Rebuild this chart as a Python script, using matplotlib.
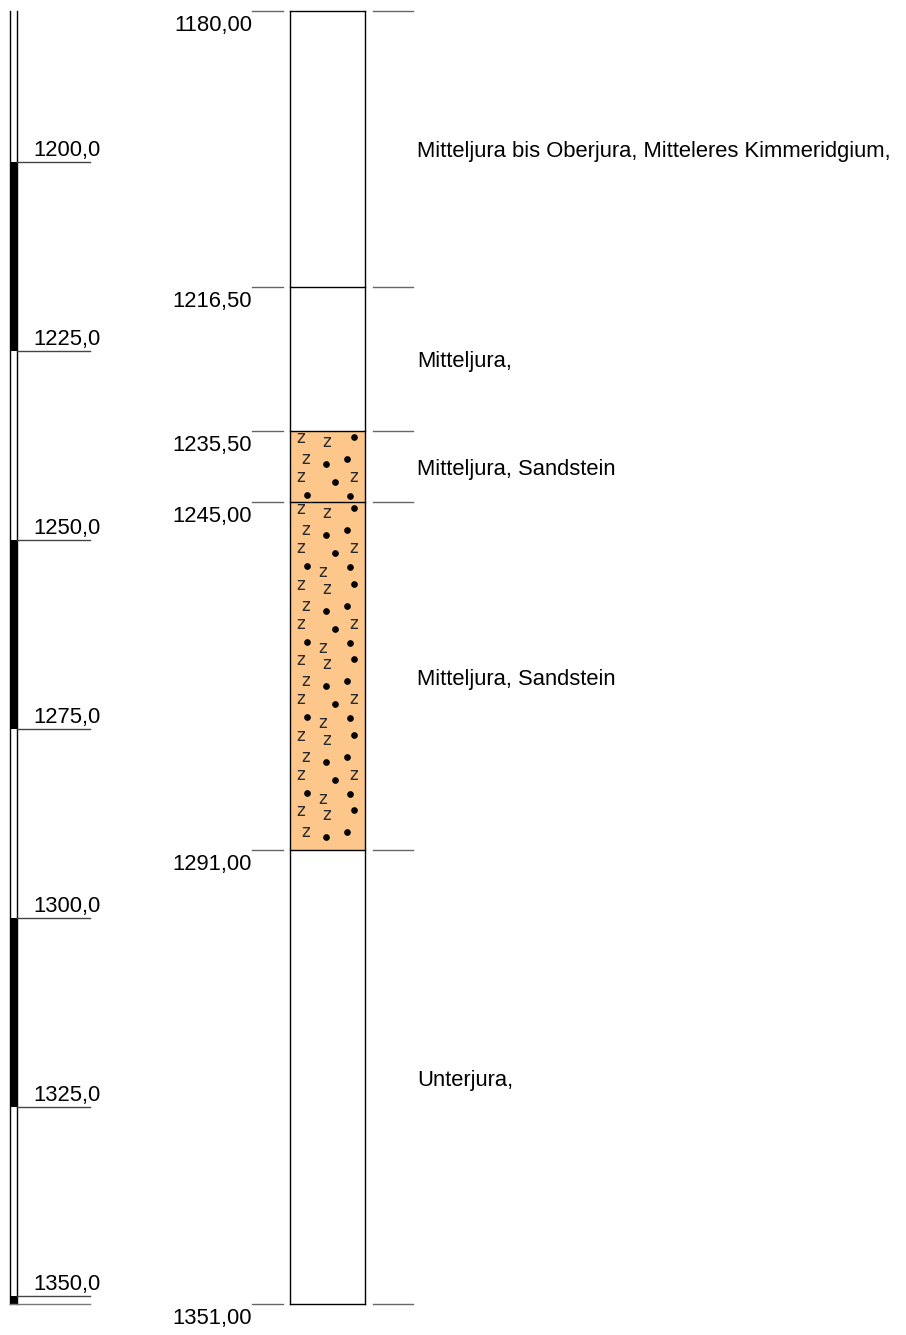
import matplotlib
matplotlib.use("Agg")
import matplotlib.pyplot as plt
from matplotlib.patches import Rectangle

plt.rcParams['font.family'] = ['Liberation Sans', 'DejaVu Sans']

# ---- data ----
boundaries = [1180.0, 1216.5, 1235.5, 1245.0, 1291.0, 1351.0]
boundary_labels = ["1180,00", "1216,50", "1235,50", "1245,00", "1291,00", "1351,00"]
descriptions = ["Mitteljura bis Oberjura, Mitteleres Kimmeridgium,",
                "Mitteljura,",
                "Mitteljura, Sandstein",
                "Mitteljura, Sandstein",
                "Unterjura,"]
lithology = [None, None, "sand", "sand", None]
scale_ticks = [1200, 1225, 1250, 1275, 1300, 1325, 1350]
scale_labels = ["1200,0", "1225,0", "1250,0", "1275,0", "1300,0", "1325,0", "1350,0"]
scale_step = 25

# ---- layout ----
W, H = 906, 1335
TOP_PX, BOT_PX = 11, 1304
PXM = (BOT_PX - TOP_PX) / (boundaries[-1] - boundaries[0])  # px per metre
y_top = boundaries[0] - TOP_PX / PXM
y_bot = boundaries[0] + (H - TOP_PX) / PXM

def px(p):
    return p / PXM

fig = plt.figure(figsize=(W / 100, H / 100), dpi=100)
ax = fig.add_axes([0, 0, 1, 1])
ax.set_xlim(0, W)
ax.set_ylim(y_bot, y_top)
ax.axis('off')

FS = 15.8
LINE_C = '#444444'

# ---- left depth scale ----
d0, d1 = boundaries[0], boundaries[-1]
XL, XR = 10, 17
start = scale_ticks[0] - scale_step
i = 0
s = start
while s < d1:
    a, b = max(s, d0), min(s + scale_step, d1)
    if i % 2 == 1 and b > a:
        ax.add_patch(Rectangle((XL, a), XR - XL, b - a, facecolor='black', edgecolor='none'))
    s += scale_step
    i += 1
ax.plot([XL, XL], [d0, d1], color='black', lw=1)
ax.plot([XR, XR], [d0, d1], color='black', lw=1)
for t, lab in zip(scale_ticks, scale_labels):
    ax.plot([XR, 90], [t, t], color=LINE_C, lw=1)
    ax.text(33, t - px(6), lab, fontsize=FS, ha='left', va='baseline')
ax.plot([XL, 90], [d1, d1], color='#777777', lw=1)

# ---- lithology column ----
CX0, CX1 = 290, 365
FILL = '#FDC78C'
motif = [('z', 301, 7), ('z', 327, 11), ('d', 354, 6),
         ('z', 306, 28), ('d', 326, 33), ('d', 347, 28),
         ('z', 301, 46), ('d', 335, 51), ('z', 354, 46),
         ('d', 307, 64), ('z', 323, 70), ('d', 350, 65)]
PERIOD = 75.5

for k in range(len(descriptions)):
    a, b = boundaries[k], boundaries[k + 1]
    if lithology[k] == 'sand':
        ax.add_patch(Rectangle((CX0, a), CX1 - CX0, b - a, facecolor=FILL, edgecolor='none', zorder=1))
        hpx = (b - a) * PXM
        rep = 0
        while rep * PERIOD < hpx:
            for kind, x, dy in motif:
                off = dy + rep * PERIOD
                if off + 4 > hpx:
                    continue
                y = a + px(off)
                if kind == 'z':
                    ax.text(x, y, 'z', fontsize=12, ha='center', va='center',
                            color='#2a2a2a', family='DejaVu Sans', zorder=3)
                else:
                    ax.plot(x, y, 'o', color='black', ms=3.8, zorder=3)
            rep += 1
    ax.text(417, (a + b) / 2 + px(3), descriptions[k], fontsize=FS, ha='left', va='center')

for d in boundaries:
    ax.plot([CX0, CX1], [d, d], color='black', lw=1, zorder=4)
ax.plot([CX0, CX0], [d0, d1], color='black', lw=1, zorder=4)
ax.plot([CX1, CX1], [d0, d1], color='black', lw=1, zorder=4)

for d, lab in zip(boundaries, boundary_labels):
    ax.plot([252, 283], [d, d], color='#666666', lw=1)
    ax.plot([373, 413], [d, d], color='#666666', lw=1)
    ax.text(252, d + px(20), lab, fontsize=FS, ha='right', va='baseline')

fig.savefig('out.png', dpi=100)
